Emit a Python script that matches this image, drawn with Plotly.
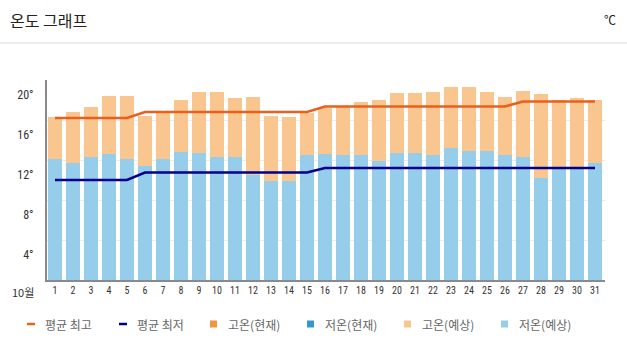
import plotly.graph_objects as go

# ---------------- data ----------------
days = list(range(1, 32))
day_labels = [str(d) for d in days]
month_label = "10월"

high_forecast = [16.3, 16.8, 17.3, 18.4, 18.4, 16.4, 16.9, 18.0, 18.8, 18.8,
                 18.2, 18.3, 16.4, 16.3, 16.7, 17.2, 17.3, 17.8, 18.0, 18.7,
                 18.7, 18.8, 19.3, 19.3, 18.8, 18.3, 18.9, 18.6, 18.0, 18.2, 18.0]
low_forecast = [12.1, 11.7, 12.3, 12.6, 12.1, 11.4, 12.1, 12.8, 12.7, 12.3,
                12.3, 10.5, 9.9, 9.9, 12.5, 12.6, 12.5, 12.5, 11.9, 12.7,
                12.7, 12.5, 13.2, 12.9, 12.9, 12.5, 12.3, 10.2, 11.2, 11.2, 11.7]
mean_high = [16.2] * 5 + [16.8] * 10 + [17.35] * 11 + [17.85] * 5
mean_low = [10.0] * 5 + [10.75] * 10 + [11.2] * 16

y_tick_vals = [4, 8, 12, 16, 20]
y_tick_text = ["4°", "8°", "12°", "16°", "20°"]

series_names = ["평균 최고", "평균 최저", "고온(현재)", "저온(현재)", "고온(예상)", "저온(예상)"]
title_text = "온도 그래프"
unit_text = "℃"

# ---------------- styles ----------------
C_MEAN_HIGH = "#e8601c"
C_MEAN_LOW = "#00008b"
C_HIGH_NOW = "#f0963c"
C_LOW_NOW = "#3399cc"
C_HIGH_FC = "#f9c68f"
C_LOW_FC = "#96cdeb"
series_colors = [C_MEAN_HIGH, C_MEAN_LOW, C_HIGH_NOW, C_LOW_NOW, C_HIGH_FC, C_LOW_FC]

KR_FONT = "Noto Sans CJK KR, Noto Sans, sans-serif"
NUM_FONT = "Liberation Sans Narrow, Roboto Condensed, Liberation Sans, sans-serif"

W, H = 627, 355
L, T, R, B = 47, 80, 22, 75
PW, PH = W - L - R, H - T - B


def px_x(x):
    return (x - L) / PW


def px_y(y):
    return (T + PH - y) / PH


fig = go.Figure()

fig.add_trace(go.Bar(x=days, y=high_forecast, marker=dict(color=C_HIGH_FC, line=dict(width=0)),
                     width=0.78, opacity=1, name=series_names[4], showlegend=False))
fig.add_trace(go.Bar(x=days, y=low_forecast, marker=dict(color=C_LOW_FC, line=dict(width=0)),
                     width=0.78, opacity=1, name=series_names[5], showlegend=False))
fig.add_trace(go.Scatter(x=days, y=mean_high, mode="lines", line=dict(color=C_MEAN_HIGH, width=2.5),
                         name=series_names[0], showlegend=False))
fig.add_trace(go.Scatter(x=days, y=mean_low, mode="lines", line=dict(color=C_MEAN_LOW, width=2.5),
                         name=series_names[1], showlegend=False))

annotations = []
shapes = []

# title, unit and separator
annotations.append(dict(text=title_text, xref="paper", yref="paper", x=px_x(8), y=px_y(20),
                        xanchor="left", yanchor="middle", showarrow=False,
                        font=dict(family=KR_FONT, size=16, color="#222222")))
annotations.append(dict(text=unit_text, xref="paper", yref="paper", x=px_x(618), y=px_y(19),
                        xanchor="right", yanchor="middle", showarrow=False,
                        font=dict(family=KR_FONT, size=12, color="#222222")))
shapes.append(dict(type="line", xref="paper", yref="paper", x0=px_x(0), x1=px_x(627),
                   y0=px_y(43), y1=px_y(43), line=dict(color="#dcdcdc", width=1)))

# month label
annotations.append(dict(text=month_label, xref="paper", yref="paper", x=px_x(23), y=px_y(292),
                        xanchor="center", yanchor="middle", showarrow=False,
                        font=dict(family=KR_FONT, size=11, color="#333333")))

# legend (manual)
legend_x = [27, 119, 210, 307, 404, 501]
legend_y = 324
for i, (name, col) in enumerate(zip(series_names, series_colors)):
    x0 = legend_x[i]
    if i < 2:
        shapes.append(dict(type="line", xref="paper", yref="paper", x0=px_x(x0), x1=px_x(x0 + 8),
                           y0=px_y(legend_y), y1=px_y(legend_y), line=dict(color=col, width=2.5)))
    else:
        shapes.append(dict(type="rect", xref="paper", yref="paper", x0=px_x(x0), x1=px_x(x0 + 7),
                           y0=px_y(legend_y - 3.5), y1=px_y(legend_y + 3.5),
                           fillcolor=col, line=dict(width=0)))
    annotations.append(dict(text=name, xref="paper", yref="paper", x=px_x(x0 + 16), y=px_y(legend_y),
                            xanchor="left", yanchor="middle", showarrow=False,
                            font=dict(family=KR_FONT, size=12, color="#666666")))

fig.update_layout(
    width=W, height=H,
    margin=dict(l=L, r=R, t=T, b=B, pad=0),
    paper_bgcolor="white", plot_bgcolor="white",
    barmode="overlay",
    showlegend=False,
    annotations=annotations,
    shapes=shapes,
    xaxis=dict(range=[0.556, 31.556], tickmode="array", tickvals=days, ticktext=day_labels,
               showgrid=False, zeroline=False, showline=True, linecolor="#8a8a8a", linewidth=2,
               ticks="", tickfont=dict(family=NUM_FONT, size=10, color="#333333"),
               fixedrange=True),
    yaxis=dict(range=[0, 20], tickmode="array", tickvals=y_tick_vals, ticktext=y_tick_text,
               showgrid=True, gridcolor="#ececec", gridwidth=1, zeroline=False,
               showline=True, linecolor="#8a8a8a", linewidth=2, ticks="",
               ticklabelshift=15, ticklabelstandoff=9,
               tickfont=dict(family=NUM_FONT, size=12, color="#333333"), fixedrange=True),
)

fig.write_html("out.html", config={"displayModeBar": False},
               post_script="document.body.style.margin='0px';")
